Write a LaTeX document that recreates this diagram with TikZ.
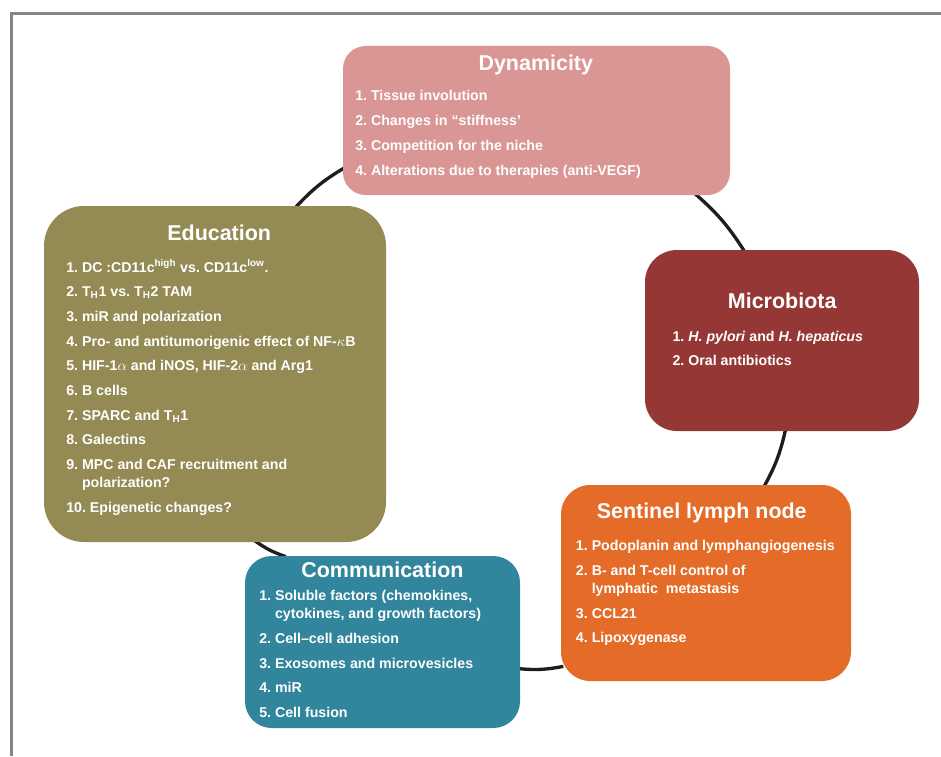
\documentclass[tikz,border=0pt]{standalone}
\usepackage{fontspec}
\setmainfont{Liberation Sans}
\frenchspacing
\pgfdeclarelayer{bg}
\pgfsetlayers{bg,main}
\definecolor{dyncol}{HTML}{D99694}
\definecolor{educol}{HTML}{948A54}
\definecolor{miccol}{HTML}{953735}
\definecolor{sencol}{HTML}{E46C28}
\definecolor{comcol}{HTML}{31859C}
\definecolor{framecol}{HTML}{858585}
\definecolor{linkcol}{HTML}{1E1E1E}
\newcommand{\fstrut}{\rule{0pt}{11pt}}
\newcommand{\hang}[1]{\phantom{#1}\ }
\newcommand{\nxt}{\\[4.8pt]}
\begin{document}
\begin{tikzpicture}[x=0.75pt,y=-0.75pt,
  box/.style={rectangle, inner sep=0pt, draw=none},
  ttl/.style={anchor=base, inner sep=0pt, text=white, font=\fontsize{16.1pt}{19pt}\selectfont\bfseries},
  lst/.style={anchor=north west, inner sep=0pt, text=white, align=left, font=\fontsize{10.65pt}{13.7pt}\selectfont\bfseries},
  link/.style={draw=linkcol, line width=2.5pt, shorten <=-2pt, shorten >=-2pt}]
\useasboundingbox (0,0) rectangle (941,756);
\draw[framecol, line width=2pt] (11.2,756) -- (11.2,13.3) -- (941,13.3);

% boxes
\node[box, fill=dyncol, minimum width=290.25pt, minimum height=111.75pt, rounded corners=17pt] (dyn) at (536.5,120.5) {};
\node[box, fill=educol, minimum width=256.5pt, minimum height=252pt, rounded corners=30pt] (edu) at (215,374) {};
\node[box, fill=miccol, minimum width=205.5pt, minimum height=135.75pt, rounded corners=24pt] (mic) at (782,340.5) {};
\node[box, fill=sencol, minimum width=217.5pt, minimum height=147pt, rounded corners=22pt] (sen) at (706,583) {};
\node[box, fill=comcol, minimum width=206.25pt, minimum height=129pt, rounded corners=20pt] (com) at (382.5,642) {};

% titles
\node[ttl] (dynt) at (535.8,70.4) {Dynamicity};
\node[ttl] (edut) at (219.2,240.4) {Education};
\node[ttl] (mict) at (782.2,308.7) {Microbiota};
\node[ttl] (sent) at (701.7,518.4) {Sentinel lymph node};
\node[ttl] (comt) at (382.4,577) {Communication};

% lists
\node[lst] (dynl) at (355,85.5) {\fstrut 1. Tissue involution\\[5pt]2. Changes in “stiffness’\\[5pt]3. Competition for the niche\\[5pt]4. Alterations due to therapies (anti-VEGF)};
\node[lst] (edul) at (66,257.2) {\fstrut 1. DC :CD11c\textsuperscript{high} vs. CD11c\textsuperscript{low}.\nxt
2. T\textsubscript{H}1 vs. T\textsubscript{H}2 TAM\nxt
3. miR and polarization\nxt
4. Pro- and antitumorigenic effect of NF-$\kappa$B\nxt
5. HIF-1$\alpha$ and iNOS, HIF-2$\alpha$ and Arg1\nxt
6. B cells\nxt
7. SPARC and T\textsubscript{H}1\nxt
8. Galectins\nxt
9. MPC and CAF recruitment and\\\hang{9.}polarization?\nxt
10. Epigenetic changes?};
\node[lst] (micl) at (672.3,326.2) {\fstrut 1. \textit{H. pylori} and \textit{H. hepaticus}\nxt
2. Oral antibiotics};
\node[lst] (senl) at (575.7,535.5) {\fstrut 1. Podoplanin and lymphangiogenesis\nxt
2. B- and T-cell control of\\\hang{2.}lymphatic\ \ metastasis\nxt
3. CCL21\nxt
4. Lipoxygenase};
\node[lst] (coml) at (259,585.5) {\fstrut 1. Soluble factors (chemokines,\\\hang{1.}cytokines, and growth factors)\nxt
2. Cell–cell adhesion\nxt
3. Exosomes and microvesicles\nxt
4. miR\nxt
5. Cell fusion};

% connectors
\begin{pgfonlayer}{bg}
\draw[link] (edu.64) to[bend left=8] (dyn.194);
\draw[link] (dyn.335) to[bend left=8] (mic.113);
\draw[link] (mic.272) to[bend left=8] (sen.59);
\draw[link] (sen.210) to[bend left=8] (com.349);
\draw[link] (com.139) to[bend left=8] (edu.284);
\end{pgfonlayer}
\end{tikzpicture}
\end{document}
